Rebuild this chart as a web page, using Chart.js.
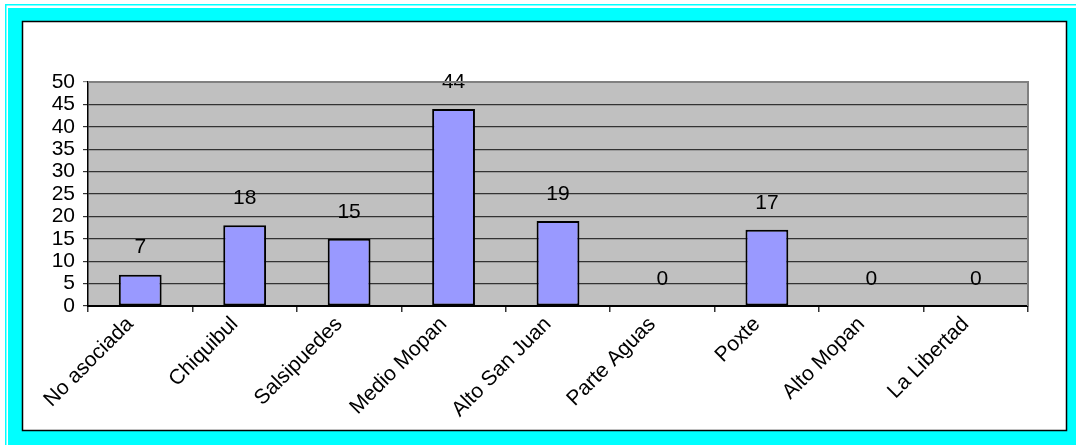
<!DOCTYPE html>
<html>
<head>
<meta charset="utf-8">
<script src="https://cdn.jsdelivr.net/npm/chart.js@4/dist/chart.umd.min.js"></script>
<style>
html,body{margin:0;padding:0;background:#fff;overflow:hidden;}
canvas{display:block;}
</style>
</head>
<body>
<canvas id="c" width="1076" height="445"></canvas>
<script>
const categories = ["No asociada","Chiquibul","Salsipuedes","Medio Mopan","Alto San Juan","Parte Aguas","Poxte","Alto Mopan","La Libertad"];
const values = [7,18,15,44,19,0,17,0,0];
const yTicks = [0,5,10,15,20,25,30,35,40,45,50];

const FONT = "'Liberation Sans', Arial, sans-serif";

const framePlugin = {
  id: 'frame',
  beforeDraw(chart) {
    const ctx = chart.ctx;
    const W = chart.width, H = chart.height;
    ctx.save();
    ctx.fillStyle = '#ffffff';
    ctx.fillRect(0, 0, W, H);
    ctx.fillStyle = '#00ffff';
    ctx.fillRect(5, 4, W - 5, 1.5);
    ctx.fillRect(5, 4, 1.5, H - 4);
    ctx.fillRect(8, 8, W - 8, H - 8);
    ctx.fillStyle = '#ffffff';
    ctx.fillRect(22, 21, 1044, 409);
    ctx.strokeStyle = '#000000';
    ctx.lineWidth = 1.5;
    ctx.strokeRect(22.5, 21.5, 1044, 409);
    const a = chart.chartArea;
    ctx.fillStyle = '#c0c0c0';
    ctx.fillRect(a.left, a.top, a.right - a.left, a.bottom - a.top);
    ctx.restore();
  },
  afterDraw(chart) {
    const ctx = chart.ctx;
    const a = chart.chartArea;
    ctx.save();
    ctx.strokeStyle = '#808080';
    ctx.lineWidth = 2;
    ctx.beginPath();
    ctx.moveTo(a.left, a.top);
    ctx.lineTo(a.right, a.top);
    ctx.lineTo(a.right, a.bottom);
    ctx.stroke();
    ctx.restore();
  }
};

const labelPlugin = {
  id: 'valueLabels',
  afterDatasetsDraw(chart) {
    const ctx = chart.ctx;
    const meta = chart.getDatasetMeta(0);
    ctx.save();
    ctx.font = "21px " + FONT;
    ctx.fillStyle = '#000';
    ctx.textAlign = 'center';
    ctx.textBaseline = 'middle';
    meta.data.forEach((el, i) => {
      ctx.fillText(String(values[i]), el.x, el.y - 27);
    });
    ctx.restore();
  }
};

new Chart(document.getElementById('c'), {
  type: 'bar',
  data: {
    labels: categories,
    datasets: [{
      data: values,
      backgroundColor: '#9999ff',
      borderColor: '#000000',
      borderWidth: 2,
      borderSkipped: false,
      categoryPercentage: 1,
      barPercentage: 0.41
    }]
  },
  options: {
    responsive: false,
    animation: false,
    devicePixelRatio: 1,
    layout: { padding: { top: 82, right: 48, left: 0, bottom: 0 } },
    plugins: { legend: { display: false }, tooltip: { enabled: false } },
    scales: {
      x: {
        afterFit(s) { s.height = 139; },
        grid: { drawOnChartArea: false, drawTicks: true, tickLength: 6, color: '#333333', lineWidth: 1.5, offset: true },
        border: { color: '#000000', width: 2 },
        ticks: {
          color: '#000',
          font: { family: FONT, size: 21 },
          minRotation: 45, maxRotation: 45,
          autoSkip: false,
          labelOffset: -10,
          padding: 0
        }
      },
      y: {
        min: 0, max: 50,
        afterFit(s) { s.width = 88; },
        afterBuildTicks(s) { s.ticks = yTicks.map(v => ({ value: v })); },
        grid: {
          color: (c) => (c.tick && c.tick.value === 50) ? '#808080' : '#333333',
          lineWidth: 1.2,
          tickLength: 5
        },
        border: { color: '#000000', width: 1.5 },
        ticks: {
          color: '#000',
          font: { family: FONT, size: 21 },
          padding: 8,
          autoSkip: false,
          stepSize: 5
        }
      }
    }
  },
  plugins: [framePlugin, labelPlugin]
});
</script>
</body>
</html>
